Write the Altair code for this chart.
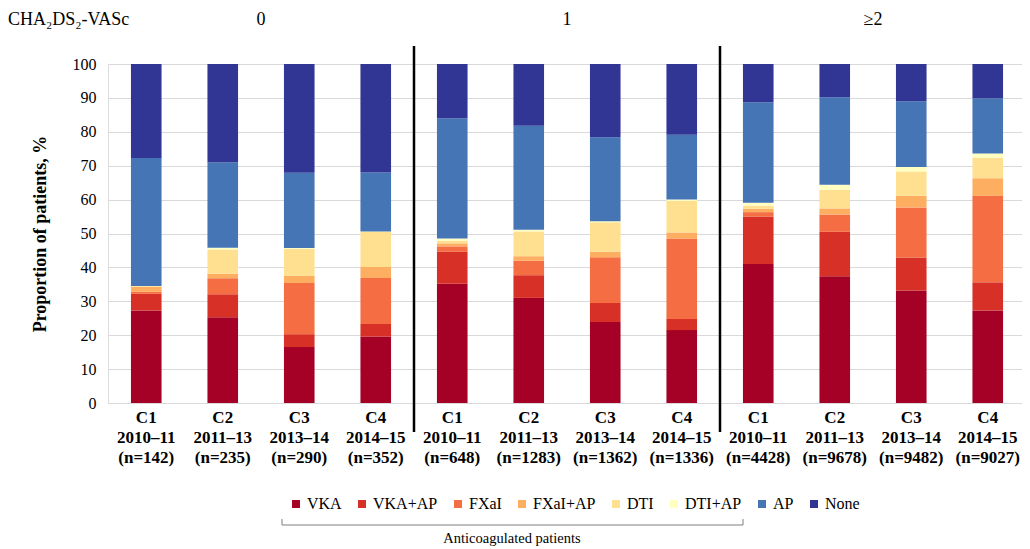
import altair as alt
import pandas as pd

FONT = "Liberation Serif"

cohorts = ["C1", "C2", "C3", "C4"]
periods = ["2010–11", "2011–13", "2013–14", "2014–15"]
groups = ["0", "1", "≥2"]
n_values = [[142, 235, 290, 352], [648, 1283, 1362, 1336], [4428, 9678, 9482, 9027]]

treatments = ["VKA", "VKA+AP", "FXaI", "FXaI+AP", "DTI", "DTI+AP", "AP", "None"]
colors = ["#a50026", "#d73027", "#f46d43", "#fdae61", "#fee090", "#ffffbf", "#4575b4", "#313695"]

# values per bar, order: group 0 (C1..C4), group 1 (C1..C4), group >=2 (C1..C4)
vka = [27.3, 25.3, 16.5, 19.6, 35.2, 31.0, 23.9, 21.5, 41.0, 37.4, 33.2, 27.3]
vka_ap = [4.9, 6.8, 3.8, 3.7, 9.4, 6.7, 5.6, 3.3, 14.0, 13.1, 9.7, 8.3]
fxai = [0.6, 4.7, 15.1, 13.6, 1.6, 4.3, 13.5, 23.7, 1.3, 5.1, 14.8, 25.5]
fxai_ap = [1.5, 1.3, 2.1, 3.2, 0.9, 1.3, 1.6, 1.8, 1.0, 1.8, 3.4, 5.2]
dti = [0.2, 7.2, 8.0, 10.4, 0.8, 7.3, 8.7, 9.3, 0.9, 5.5, 7.2, 6.1]
dti_ap = [0.0, 0.5, 0.2, 0.1, 0.6, 0.5, 0.3, 0.4, 0.9, 1.5, 1.3, 1.2]
ap = [37.8, 25.2, 22.2, 17.4, 35.5, 30.7, 24.8, 19.1, 29.6, 25.8, 19.4, 16.3]
none = [27.7, 29.0, 32.1, 32.0, 16.0, 18.2, 21.6, 20.9, 11.3, 9.8, 11.0, 10.1]

series = [vka, vka_ap, fxai, fxai_ap, dti, dti_ap, ap, none]

keys = []
for g in range(3):
    for c in range(4):
        keys.append(f"{cohorts[c]}|{periods[c]}|(n={n_values[g][c]})")

rows = []
for i, k in enumerate(keys):
    for t, (name, vals) in enumerate(zip(treatments, series)):
        rows.append({"key": k, "treatment": name, "ord": t, "pct": vals[i]})
df = pd.DataFrame(rows)

STEP = 76.5
xscale = alt.Scale(domain=keys, range=[0, 12 * STEP], paddingInner=0.6, paddingOuter=0.3)
GAP = 0.3 * STEP

bars = alt.Chart(df).mark_bar().encode(
    x=alt.X("key:N", sort=keys, scale=xscale,
            axis=alt.Axis(title=None, labelAngle=0, labelExpr="split(datum.label, '|')",
                          labelFont=FONT, labelFontSize=17, labelFontWeight="bold",
                          labelColor="black", labelLineHeight=20, labelBaseline="top",
                          domain=False, ticks=False, labelPadding=6, grid=False)),
    y=alt.Y("pct:Q", stack="zero", scale=alt.Scale(domain=[0, 100], nice=False),
            axis=alt.Axis(values=list(range(0, 101, 10)), title="Proportion of patients, %",
                          titleFont=FONT, titleFontSize=18, titleFontWeight="bold",
                          titleColor="black", titlePadding=23,
                          labelFont=FONT, labelFontSize=16, labelColor="black",
                          domain=False, ticks=False, labelPadding=12,
                          gridColor="#d9d9d9", gridWidth=1)),
    color=alt.Color("treatment:N", scale=alt.Scale(domain=treatments, range=colors),
                    legend=alt.Legend(orient="none", legendX=180, legendY=432,
                                      direction="horizontal", columns=8, title=None,
                                      symbolType="square", symbolSize=64,
                                      symbolStrokeWidth=0, labelFont=FONT,
                                      labelFontSize=16, labelColor="black",
                                      labelOffset=3, columnPadding=12, padding=0)),
    order=alt.Order("ord:Q"),
)

sep_df = pd.DataFrame({"key": [keys[3], keys[7]]})
seps = alt.Chart(sep_df).mark_rule(color="black", strokeWidth=2.5, xOffset=GAP).encode(
    x=alt.X("key:N", sort=keys, scale=xscale, bandPosition=1),
    y=alt.value(-18),
    y2=alt.value(368),
)

head_df = pd.DataFrame({"key": [keys[1], keys[5], keys[9]], "label": groups})
heads = alt.Chart(head_df).mark_text(font=FONT, fontSize=18, color="black",
                                     xOffset=GAP, align="center", baseline="middle").encode(
    x=alt.X("key:N", sort=keys, scale=xscale, bandPosition=1),
    y=alt.value(-44),
    text="label:N",
)

title_df = pd.DataFrame({"t": ["CHA₂DS₂-VASc"]})
score_title = alt.Chart(title_df).mark_text(font=FONT, fontSize=18, color="black",
                                            align="left", baseline="middle").encode(
    x=alt.value(-100), y=alt.value(-44), text="t:N")

br_df = pd.DataFrame({"t": ["Anticoagulated patients"]})
br_h = alt.Chart(br_df).mark_rule(color="#7f7f7f", strokeWidth=1).encode(
    x=alt.value(174), x2=alt.value(635), y=alt.value(461))
br_l = alt.Chart(br_df).mark_rule(color="#7f7f7f", strokeWidth=1).encode(
    x=alt.value(174), y=alt.value(455), y2=alt.value(461))
br_r = alt.Chart(br_df).mark_rule(color="#7f7f7f", strokeWidth=1).encode(
    x=alt.value(635), y=alt.value(455), y2=alt.value(461))
br_t = alt.Chart(br_df).mark_text(font=FONT, fontSize=14.5, color="black",
                                  align="center", baseline="middle").encode(
    x=alt.value(404), y=alt.value(475), text="t:N")

chart = alt.layer(bars, seps, heads, score_title, br_h, br_l, br_r, br_t).properties(
    width=914, height=339,
    autosize=alt.AutoSizeParams(type="none"),
    padding={"left": 100, "top": 56, "right": 0, "bottom": 146},
).configure_view(stroke=None).configure(background="white", font=FONT).configure_legend(
    labelFont=FONT, labelFontSize=16)

chart.save("out.html", embed_options={"renderer": "svg", "actions": False})
